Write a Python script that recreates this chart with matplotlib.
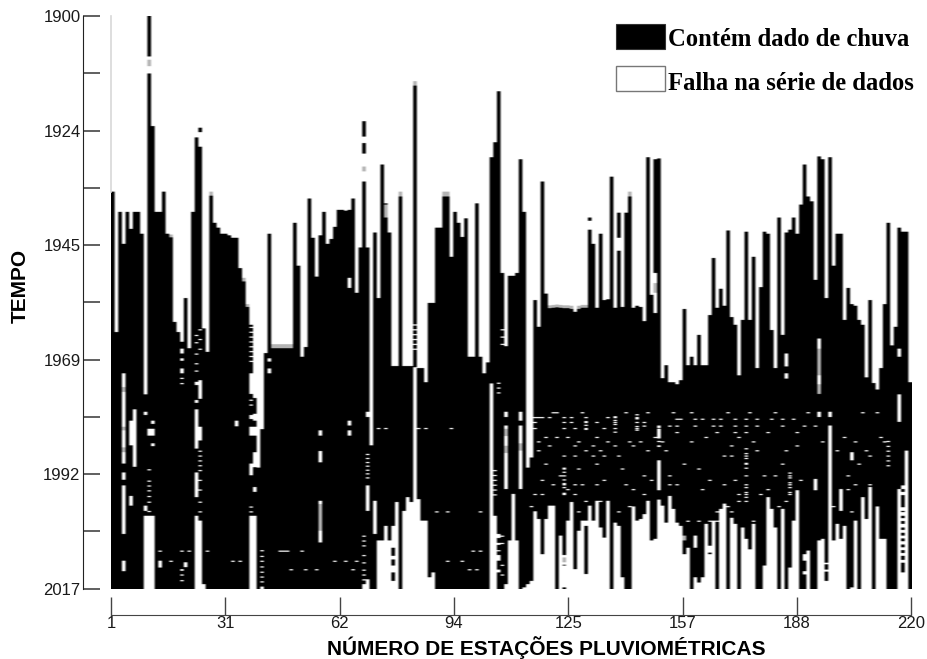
import numpy as np
import matplotlib
matplotlib.use("Agg")
import matplotlib.pyplot as plt
from matplotlib.colors import ListedColormap
from matplotlib.patches import Rectangle

# first year of record for stations 1..220
start_year = [
    1936.2, 1965.1, 1940.3, 1946.9, 1940.3, 1943.8, 1940.3, 1940.3, 1944.8, 1977.9,
    1900.0, 1922.7, 1940.3, 1940.3, 1936.2, 1944.8, 1945.0, 1963.0, 1965.1, 1967.1,
    1958.1, 1968.4, 1940.3, 1925.0, 1923.0, 1964.3, 1969.2, 1936.2, 1942.6, 1943.6,
    1944.8, 1944.8, 1945.2, 1945.7, 1945.7, 1951.9, 1953.9, 1959.3, 1963.6, 1978.7,
    1993.0, 1985.1, 1969.4, 1944.8, 1967.6, 1967.6, 1967.6, 1967.6, 1967.6, 1967.6,
    1942.6, 1951.4, 1970.2, 1968.2, 1937.6, 1945.7, 1953.7, 1945.2, 1940.3, 1946.9,
    1945.9, 1943.4, 1939.9, 1939.9, 1940.1, 1939.9, 1937.6, 1957.0, 1947.7, 1921.7,
    1947.7, 1988.4, 1944.6, 1958.1, 1930.6, 1938.6, 1944.6, 1972.1, 1972.1, 1936.2,
    1972.1, 1972.1, 1972.1, 1913.4, 1972.5, 1972.5, 1975.4, 1959.1, 1959.1, 1943.6,
    1943.6, 1936.2, 1936.2, 1949.6, 1940.3, 1942.6, 1945.5, 1941.7, 1970.2, 1970.2,
    1938.6, 1970.2, 1973.6, 1971.3, 1929.1, 1926.0, 1915.5, 1952.9, 1968.0, 1953.5,
    1953.5, 1952.9, 1929.5, 1940.3, 1993.0, 1990.9, 1958.5, 1964.0, 1934.1, 1957.2,
    1959.6, 1959.5, 1959.4, 1959.5, 1959.6, 1959.6, 1959.7, 1960.9, 1959.7, 1959.5,
    1959.5, 1941.5, 1946.9, 1960.1, 1944.8, 1958.5, 1958.3, 1933.1, 1960.1, 1940.5,
    1959.9, 1940.5, 1936.2, 1960.1, 1959.7, 1959.9, 1962.8, 1929.1, 1957.4, 1929.5,
    1929.3, 1974.6, 1971.9, 1975.4, 1975.4, 1975.8, 1975.0, 1960.3, 1971.9, 1970.2,
    1971.9, 1965.7, 1971.9, 1971.9, 1961.6, 1949.8, 1960.1, 1956.2, 1959.7, 1944.2,
    1962.0, 1963.6, 1974.0, 1962.6, 1944.4, 1962.6, 1949.6, 1972.5, 1955.8, 1944.4,
    1944.8, 1964.7, 1972.5, 1941.5, 1965.7, 1944.6, 1944.0, 1941.5, 1944.8, 1938.8,
    1930.6, 1937.2, 1938.2, 1954.3, 1928.9, 1929.5, 1958.1, 1929.1, 1951.4, 1944.8,
    1944.8, 1962.6, 1956.0, 1959.3, 1959.7, 1962.6, 1963.6, 1974.4, 1958.5, 1975.6,
    1976.9, 1972.5, 1959.3, 1942.6, 1967.8, 1964.0, 1943.6, 1944.4, 1944.4, 1975.4,
]

# last year of record for stations 1..220
end_year = [
    2018, 2018, 2018, 2018, 2018, 2018, 2018, 2018, 2018, 2002.9,
    2002.9, 2002.9, 2018, 2018, 2018, 2018, 2018, 2018, 2018, 2018,
    2018, 2018, 2018, 2002.9, 2003.9, 2017, 2018, 2018, 2018, 2018,
    2018, 2018, 2018, 2018, 2018, 2018, 2018, 2018, 2002.9, 2002.9,
    2018, 2017.5, 2018, 2018, 2018, 2018, 2018, 2018, 2018, 2018,
    2018, 2018, 2018, 2018, 2018, 2018, 2018, 2018, 2018, 2018,
    2018, 2018, 2018, 2018, 2018, 2018, 2018, 2018, 2018, 2017,
    2016, 2018, 2018, 2008, 2008, 2005, 2008, 2018, 2000.1, 2018,
    2001.9, 1999.1, 2000.1, 1972.3, 1999.5, 2003.9, 2003.9, 2015.6, 2014.6, 2018,
    2018, 2018, 2018, 2018, 2018, 2018, 2018, 2018, 2018, 2018,
    2018, 2018, 2018, 2018, 1975.7, 2002.9, 2018, 2018, 2017, 2008,
    1998.4, 2008, 2018, 2017.7, 2017, 2016.3, 2002.2, 2003.6, 2010.8, 2003.6,
    2000.8, 2000.8, 2018, 2007, 2018, 2003.9, 2000.1, 2013.9, 2006, 2003.9,
    2014.9, 2000.8, 2003.9, 1999.8, 2005.3, 2007.4, 1999.8, 2018, 2004.3, 2005,
    2015.6, 2018, 2018, 2001, 2003.9, 2003.6, 2002.6, 1999.8, 2008, 2007.7,
    1999.6, 2000.8, 2004.3, 1998.8, 2001.5, 2004.3, 2005, 2010.8, 2009.5, 2018,
    2015.6, 2016.7, 2015.6, 2004.6, 2010.8, 2003.9, 2018, 2001.5, 2000.4, 2018,
    2003.3, 2004.6, 2018, 2005.3, 2007.7, 2009.8, 2004.6, 2018, 2018, 2013.2,
    1999.1, 2001.5, 2005.3, 2018, 2001.5, 2018, 2013.6, 2003.9, 1997.7, 2018,
    2018, 2010.1, 2018, 2018, 2008, 2007.7, 2016.3, 1984.3, 2008, 2004.6,
    2007.7, 2005, 2018, 2017.7, 2003.9, 2018, 1999.1, 2003.6, 1997, 2018,
    2001, 2007.7, 2007.7, 2018, 2018, 2018, 1997.4, 2014.6, 1989.5, 2018,
]

# longer breaks: (station, from, to)
gaps = [
    (4, 1973.6, 1992.2), (4, 1994.0, 1995.5), (4, 1996.7, 2006.7), (4, 2012.2, 2014.3),
    (6, 1983.3, 1988.4), (6, 1998.8, 2000.8), (7, 1981.0, 1992.8),
    (10, 1981.5, 1982.2), (10, 2000.8, 2001.9), (11, 1908.3, 1911.8), (11, 1985.0, 1986.4),
    (12, 1983.3, 1984.0), (12, 1985.0, 1986.4), (12, 1988.0, 1988.6), (14, 2012.2, 2013.6),
    (20, 1968.5, 1969.5), (20, 1970.5, 1971.0), (20, 1972.6, 1973.6), (21, 2012.5, 2013.5),
    (24, 1923.2, 1925.0), (24, 1975.3, 1976.0), (24, 1979.1, 1979.7), (24, 1981.0, 1989.1), (24, 1994.0, 1999.1),
    (25, 1923.9, 1926.9), (25, 1975.0, 1978.8), (25, 1984.6, 1987.4), (35, 1983.3, 1984.5),
    (39, 1973.6, 1977.8), (39, 1982.2, 1983.0), (39, 1984.6, 1986.4), (39, 1992.2, 1994.6),
    (40, 1981.9, 1983.3), (40, 1984.6, 1986.4), (40, 1989.8, 1992.9), (40, 1997.0, 1998.0),
    (44, 1970.5, 1971.2), (44, 1972.6, 1973.6), (58, 1985.3, 1986.4), (58, 1989.6, 1991.9), (58, 1999.8, 2008.4),
    (66, 1953.9, 1956.0), (66, 1983.3, 1984.3), (66, 1985.3, 1986.4),
    (71, 1981.5, 1982.6), (71, 1996.7, 2001.9), (73, 1999.8, 2006.7), (78, 2005.0, 2009.5), (78, 2011.2, 2011.9),
    (78, 2013.2, 2014.6), (78, 2016.3, 2018.0), (70, 1924.8, 1926.2), (70, 1928.3, 1934.1),
    (107, 2006.7, 2007.5), (107, 2008.5, 2008.9), (107, 2011.0, 2012.2), (107, 2014.0, 2014.6),
    (109, 1981.5, 1982.6), (109, 1984.3, 1997.4), (113, 1981.5, 1983.3), (113, 1984.3, 1997.4),
    (125, 2011.0, 2013.0), (125, 2013.2, 2015.6), (125, 2015.6, 2017.7), (131, 2003.9, 2005.0),
    (132, 1942.2, 1944.0), (140, 1945.7, 1948.3), (150, 1952.9, 1961.2),
    (151, 1985.0, 1987.0), (151, 1991.5, 1997.7), (186, 1969.5, 1972.2), (186, 1973.6, 1974.7),
    (195, 1966.4, 1977.8), (195, 1981.5, 1982.6), (194, 1995.3, 1997.7), (198, 1981.5, 1982.6),
    (201, 1997.4, 2001.9), (204, 1989.8, 1991.5), (217, 1968.5, 1970.2), (217, 1977.9, 1983.6),
    (165, 2009.1, 2010.5), (161, 2007.0, 2009.5), (197, 2012.6, 2012.9), (197, 2014.0, 2014.4),
    (191, 2010.8, 2012.2), (191, 2014.3, 2015.0),
    (218, 1996.7, 1997.4), (218, 1998.0, 1998.7), (218, 2001.2, 2001.9), (218, 2002.2, 2002.9),
    (218, 2003.4, 2004.0), (218, 2004.6, 2005.3), (218, 2005.8, 2006.4), (218, 2007.0, 2007.6),
    (218, 2008.2, 2008.8), (218, 2009.4, 2010.0), (218, 2010.6, 2011.2), (218, 2012.0, 2012.6),
]

# grey cells (partly filled years): (station, from, to)
grey_cells = [
    (11, 1909.0, 1910.3), (4, 1976.4, 1977.4), (4, 1984.6, 1985.3), (4, 1988.8, 1989.8),
    (17, 1945.0, 1945.6), (28, 1936.2, 1937.0), (37, 1953.9, 1954.7), (38, 1959.3, 1959.9),
    (45, 1967.6, 1968.4), (46, 1967.6, 1968.4), (47, 1967.6, 1968.4), (48, 1967.6, 1968.4),
    (49, 1967.6, 1968.4), (50, 1967.6, 1968.4), (58, 2000.5, 2006.0), (70, 1931.0, 1932.0),
    (76, 1938.8, 1941.5), (80, 1936.2, 1937.2), (84, 1913.4, 1914.3), (92, 1936.2, 1937.2),
    (93, 1936.2, 1937.2), (109, 1985.0, 1986.5), (109, 1988.5, 1990.0), (113, 1988.0, 1989.5),
    (143, 1936.2, 1937.2), (121, 1959.6, 1960.2), (122, 1959.5, 1960.1), (123, 1959.4, 1960.0),
    (124, 1959.5, 1960.1), (125, 1959.6, 1960.2), (126, 1959.6, 1960.2), (127, 1959.7, 1960.3),
    (129, 1959.7, 1960.3), (130, 1959.5, 1960.1), (131, 1959.5, 1960.1), (150, 1955.0, 1957.0),
    (195, 1968.5, 1974.0), (195, 1975.8, 1977.8), (158, 2007.0, 2008.0), (125, 2011.5, 2012.5),
]

# thin one-line gaps: year of the row and the stations that show it
speck_years = [
    1981.6, 1982.6, 1982.9, 1983.6, 1984.3, 1984.8, 1985.7, 1986.7, 1987.6, 1988.4,
    1989.4, 1990.5, 1992.2, 1993.2, 1994.6, 1995.5, 1996.4, 1997.4, 1998.4, 1999.8,
    2000.9, 2002.0, 2003.9, 2010.1, 2012.2, 2013.9,
]
speck_stations = [
    [122, 123, 130, 142, 148, 155, 160, 170, 176, 183, 192, 207, 211],
    [117, 118, 119, 121, 125, 127, 137, 139, 145],
    [156, 157, 161, 163, 166, 168, 172, 175, 178, 182, 185, 188],
    [117, 125, 127, 131, 134, 139, 145, 147],
    [147, 151, 154, 156, 161, 166, 168, 172, 175, 178, 185, 191, 194],
    [74, 76, 85, 87, 94, 117, 125, 128, 131, 136, 139, 145],
    [151, 156, 167, 172, 175, 181, 189],
    [120, 123, 126, 134, 150, 164, 173, 202, 212],
    [118, 129, 137, 143, 146, 152, 160, 177, 196, 205, 213],
    [121, 128, 133, 139, 144, 151, 171, 189],
    [118, 131, 135, 148, 153, 178, 186, 200, 208],
    [125, 128, 133, 136, 140, 169, 171, 175, 204, 209, 214],
    [175, 185, 206, 120, 134, 158],
    [125, 129, 141, 151, 162],
    [154, 175, 180, 183, 187, 124, 147, 203],
    [119, 136, 149, 165, 172, 190],
    [122, 125, 128, 130, 134, 142, 154, 156, 169, 175, 187, 194, 205, 209],
    [126, 144, 151, 163, 181, 203],
    [117, 119, 125, 128, 147, 173, 175, 179, 187, 201],
    [131, 135, 173, 175, 186],
    [116, 121, 143, 170, 184, 199],
    [90, 93, 102, 117, 129, 140, 167, 171, 204],
    [159, 162, 165, 167, 177],
    [14, 20, 22, 27, 47, 48, 49, 53, 100, 102],
    [17, 34, 36, 62, 65, 68, 93, 97],
    [20, 50, 54, 57, 67, 99, 101],
]

# stations where thin gaps are stacked: (station, years)
speck_stacks = [
    (11, [1993.3, 1995.7, 1996.7, 1997.7, 1998.8, 2000.0, 2001.9]),
    (20, [1974.5, 1975.6, 2014.0, 2015.0, 2016.2]),
    (24, [1965.7, 1967.2, 1969.5, 1971.5, 1973.0, 2003.0, 2004.0]),
    (25, [1964.5, 1966.5, 1968.5, 1989.5, 1990.5, 1991.5, 1992.5, 1993.5, 1995.5, 1997.5, 2000.0, 2002.0]),
    (39, [1964.0, 1965.0, 1966.0, 1967.0, 1968.0, 1969.0, 1970.0, 1971.0, 1979.0, 1980.0, 2001.0, 2002.0]),
    (42, [2010.0, 2011.2, 2012.2, 2013.3, 2014.4, 2015.4, 2016.4]),
    (70, [2007.0, 2008.0, 2009.0, 2011.0, 2012.5, 2014.0, 2015.0, 2016.0]),
    (71, [1990.2, 1991.0, 1991.8, 1992.6, 1993.4, 1994.2, 1995.0]),
    (84, [1963.5, 1964.5, 1965.5, 1966.5, 1967.5, 1968.5]),
    (106, [1993.5, 1994.5, 1995.5, 1996.5, 1997.5, 1998.5]),
    (107, [1975.5, 1976.5, 1977.5, 2010.0]),
    (108, [1964.5, 1966.0, 1967.5, 2007.0, 2008.5, 2013.0, 2015.0]),
    (125, [1993.0, 1993.8, 1994.6, 1995.4, 1996.2, 1997.0, 1998.2]),
    (131, [1982.6, 1983.4, 1984.2, 1985.0]),
    (139, [1982.4, 1983.2, 1984.0, 1984.8, 1985.6]),
    (145, [1982.0, 1982.8, 1983.6, 1984.4, 1985.2]),
    (151, [1984.6, 1987.5, 1988.5]),
    (175, [1989.0, 1990.0, 1991.0, 1992.0, 1993.0, 1997.0, 1998.0, 1999.0]),
    (187, [1994.0, 1995.0, 1996.0, 1997.0, 1998.0]),
    (214, [1987.5, 1988.5, 1989.5, 1990.5, 1991.5, 1992.5]),
]

x_tick_labels = ["1", "31", "62", "94", "125", "157", "188", "220"]
y_tick_labels = ["1900", "", "1924", "", "1945", "", "1969", "", "1992", "", "2017"]

n_stations = len(start_year)
per_year = 12
first_year, last_year = 1900, 2018
grid = np.zeros(((last_year - first_year) * per_year, n_stations))


def row(year):
    return int(round((year - first_year) * per_year))


for i in range(n_stations):
    grid[row(start_year[i]):row(end_year[i]), i] = 2
for st, y0, y1 in gaps:
    grid[row(y0):row(y1), st - 1] = 0
for year, stations in zip(speck_years, speck_stations):
    for st in stations:
        grid[row(year):row(year) + 3, st - 1] = 0
for st, years in speck_stacks:
    for year in years:
        grid[row(year):row(year) + 3, st - 1] = 0
for st, y0, y1 in grey_cells:
    grid[row(y0):row(y1), st - 1] = 1

W, H = 927, 659
plt.rcParams["font.family"] = ["Liberation Sans", "DejaVu Sans"]
fig = plt.figure(figsize=(W / 100, H / 100), dpi=100)
ax = fig.add_axes([111 / W, 1 - 588.7 / H, 800.3 / W, 572.7 / H])

cmap = ListedColormap(["white", "#b4b4b4", "black"])
ax.imshow(grid, cmap=cmap, vmin=0, vmax=2, aspect="auto", interpolation="antialiased",
          interpolation_stage="rgba", extent=(0, n_stations, last_year, first_year))
ax.plot([0, 0], [first_year, start_year[0]], color="#d8d8d8", lw=1.2, clip_on=False)

ax.set_xlim(0, n_stations)
ax.set_ylim(last_year, first_year)
ax.set_xticks(np.linspace(0, n_stations, len(x_tick_labels)))
ax.set_xticklabels(x_tick_labels)
ax.set_yticks(np.linspace(first_year, last_year, len(y_tick_labels)))
ax.set_yticklabels(y_tick_labels)

for side in ["top", "right"]:
    ax.spines[side].set_visible(False)
ax.spines["left"].set_position(("outward", 20.4))
ax.spines["bottom"].set_position(("outward", 18.9))
ax.spines["left"].set_color("#222222")
ax.spines["bottom"].set_color("#444444")
ax.tick_params(axis="y", direction="in", length=12.5, width=1.2, color="#444444", pad=1.5,
               labelsize=12, labelcolor="#1a1a1a")
ax.tick_params(axis="x", direction="in", length=13, width=1, color="#444444", pad=1,
               labelsize=12, labelcolor="#1a1a1a")

fig.text(546.5 / W, 1 - 648 / H, "NÚMERO DE ESTAÇÕES PLUVIOMÉTRICAS", fontsize=15,
         fontweight="bold", ha="center", va="center")
fig.text(20 / W, 1 - 286 / H, "TEMPO", fontsize=15, fontweight="bold", rotation=90,
         ha="center", va="center")

# legend
fig.add_artist(Rectangle((616 / W, 1 - 49 / H), 49 / W, 25 / H, transform=fig.transFigure,
                         facecolor="black", edgecolor="#333333", lw=0.8))
fig.add_artist(Rectangle((616 / W, 1 - 91 / H), 49 / W, 25 / H, transform=fig.transFigure,
                         facecolor="white", edgecolor="#777777", lw=1))
fig.text(668 / W, 1 - 39 / H, "Contém dado de chuva", fontsize=17.7, fontweight="bold",
         family=["Liberation Serif"], ha="left", va="center")
fig.text(668 / W, 1 - 83 / H, "Falha na série de dados", fontsize=17.7, fontweight="bold",
         family=["Liberation Serif"], ha="left", va="center")

plt.savefig("out.png", dpi=100)
plt.close()
